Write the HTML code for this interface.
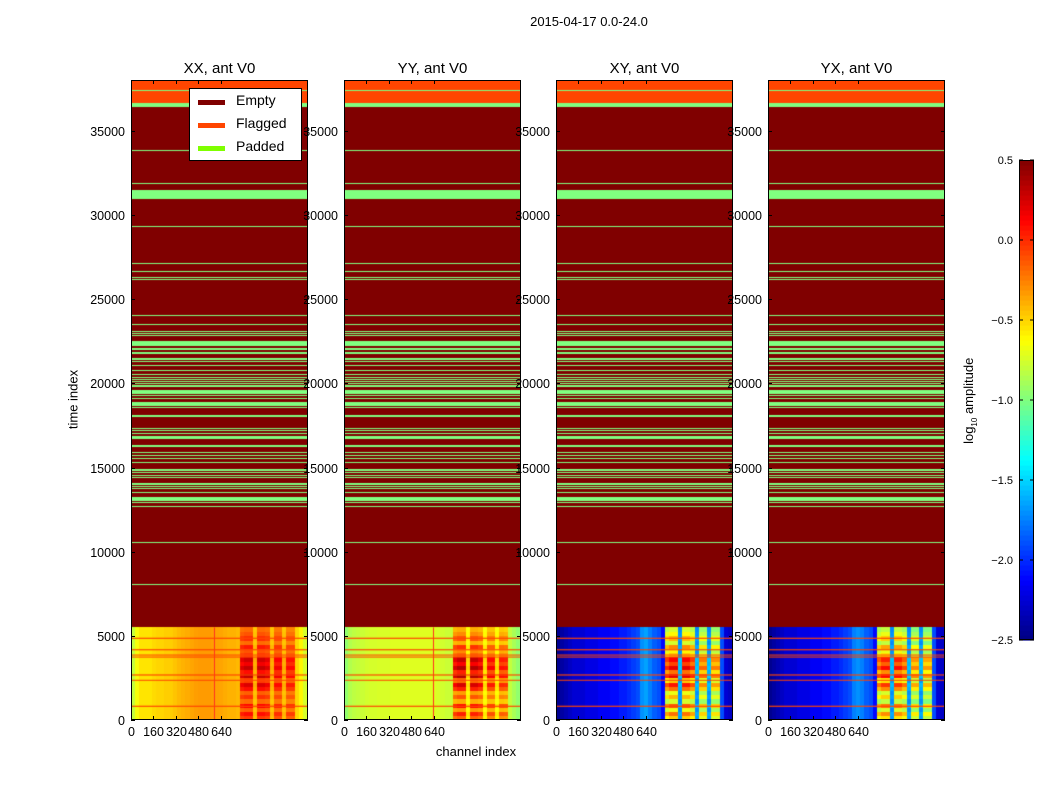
<!DOCTYPE html>
<html><head><meta charset="utf-8">
<style>
body{margin:0;background:#fff;}
#root{position:relative;width:1050px;height:800px;background:#fff;font-family:"Liberation Sans","DejaVu Sans",sans-serif;color:#000;overflow:hidden;}
.t{position:absolute;white-space:nowrap;}
canvas{position:absolute;}
</style></head>
<body>
<div id="root">
<div class="t" style="left:0;width:1178px;top:14px;text-align:center;font-size:13px;">2015-04-17 0.0-24.0</div>
<div class="t" style="left:33px;top:392px;width:80px;text-align:center;font-size:13px;transform:rotate(-90deg);">time index</div>
<div class="t" style="left:400px;top:744px;width:152px;text-align:center;font-size:13px;">channel index</div>
<div class="t" style="left:910px;top:392px;width:120px;text-align:center;font-size:13px;transform:rotate(-90deg);">log<sub style="font-size:8px">10</sub> amplitude</div>
<svg id="axes" width="1050" height="800" style="position:absolute;left:0;top:0"></svg>
<div style="position:absolute;left:189px;top:88px;width:111px;height:71px;border:1px solid #000;background:#fff;z-index:5;">
  <div style="position:absolute;left:8px;top:3px;height:20px;"><span style="position:absolute;left:0;top:8px;width:27px;height:5px;background:#800000"></span><span class="t" style="left:38px;top:0;font-size:14px;">Empty</span></div>
  <div style="position:absolute;left:8px;top:26px;height:20px;"><span style="position:absolute;left:0;top:8px;width:27px;height:5px;background:#ff4500"></span><span class="t" style="left:38px;top:0;font-size:14px;">Flagged</span></div>
  <div style="position:absolute;left:8px;top:49px;height:20px;"><span style="position:absolute;left:0;top:8px;width:27px;height:5px;background:#7fff00"></span><span class="t" style="left:38px;top:0;font-size:14px;">Padded</span></div>
</div>
</div>
<script>
// ---- data ----
const panelTitles = ["XX, ant V0","YY, ant V0","XY, ant V0","YX, ant V0"];
const yTicks = [0,5000,10000,15000,20000,25000,30000,35000];
const xTicks = [0,160,320,480,640];
const cbTicks = [-2.5,-2.0,-1.5,-1.0,-0.5,0.0,0.5];
const cbTickLabels = ["\u22122.5","\u22122.0","\u22121.5","\u22121.0","\u22120.5","0.0","0.5"];
const dataTop = 5500;
const rowBinSize = 250;
const chanBinSize = 30;
const baseXX = [-0.8,-0.65,-0.55,-0.55,-0.55,-0.52,-0.5,-0.5,-0.48,-0.48,-0.45,-0.42,-0.4,-0.38,-0.36,-0.34,-0.33,-0.33,-0.33,-0.34,-0.35,-0.36,-0.38,-0.4,-0.4,-0.42,-0.4,-0.4,-0.4,-0.5,-0.4,-0.4,-0.4,-0.5,-0.4,-0.4,-0.5,-0.42,-0.42,-0.5,-0.6,-0.75];
const baseYY = [-0.95,-0.85,-0.82,-0.8,-0.78,-0.76,-0.75,-0.75,-0.74,-0.74,-0.74,-0.72,-0.72,-0.72,-0.72,-0.72,-0.72,-0.72,-0.72,-0.72,-0.72,-0.72,-0.74,-0.76,-0.78,-0.78,-0.7,-0.7,-0.7,-0.7,-0.7,-0.7,-0.7,-0.7,-0.7,-0.7,-0.7,-0.7,-0.72,-0.8,-0.88,-0.95];
const baseXY = [-2.45,-2.4,-2.35,-2.3,-2.25,-2.25,-2.25,-2.2,-2.2,-2.2,-2.15,-2.15,-2.15,-2.1,-2.1,-2.05,-2.05,-2.0,-1.95,-1.9,-1.7,-1.65,-1.75,-1.85,-1.9,-2.1,-1.2,-1.15,-1.15,-1.8,-1.15,-1.15,-1.2,-1.8,-1.25,-1.25,-1.8,-1.25,-1.25,-1.9,-2.25,-2.3];
const baseYX = [-2.45,-2.4,-2.35,-2.3,-2.25,-2.25,-2.25,-2.2,-2.2,-2.2,-2.15,-2.15,-2.15,-2.1,-2.1,-2.05,-2.05,-2.0,-1.95,-1.9,-1.75,-1.7,-1.75,-1.85,-1.9,-2.1,-1.25,-1.2,-1.2,-1.8,-1.2,-1.2,-1.25,-1.8,-1.3,-1.3,-1.8,-1.3,-1.3,-1.9,-2.25,-2.3];
const rfiCol = [0,0,0,0,0,0,0,0,0,0,0,0,0,0,0,0,0,0,0,0,0,0,0,0,0,0,0.9,1,1,0.2,1,1,0.9,0.2,0.8,0.8,0.2,0.75,0.75,0,0,0];
const rfiRow = [0.5,0.7,0.35,0.75,0.3,0.55,0.35,0.7,0.9,0.5,1.0,0.7,1.0,0.8,0.95,0.5,0.4,0.65,0.3,0.55,0.4,0.3];
const rfiGain = [0.7,1.05,1.35,1.3];
const flaggedChans = [[591],[630],[],[]];
const flaggedRows = [[36660,38030],[4820,4890],[4140,4210],[3830,3890],[3710,3770],[2640,2710],[2330,2390],[780,850]];
const paddedRows = [[37360,37430],[36420,36660],[33820,33890],[31860,31930],[30942,31496],[29300,29370],[27100,27170],[26630,26700],[26270,26340],[26110,26180],[23970,24040],[23440,23510],[23020,23090],[22900,22970],[22780,22850],[22224,22520],[21987,22105],[21790,21860],[21710,21780],[21391,21510],[21255,21325],[21000,21070],[20700,20770],[20480,20550],[20290,20360],[20170,20240],[20070,20140],[19930,20000],[19810,19880],[19750,19820],[19371,19608],[19220,19290],[19060,19130],[18658,18896],[18500,18570],[18022,18124],[17310,17380],[17140,17210],[16960,17030],[16798,16893],[16660,16730],[16240,16341],[15830,15900],[15650,15720],[15470,15540],[15240,15310],[14814,14915],[14640,14710],[14480,14550],[14360,14430],[14005,14100],[13830,13900],[13690,13760],[13450,13520],[13031,13251],[12860,12930],[12640,12710],[10480,10550],[7990,8060]];
const bases = [baseXX,baseYY,baseXY,baseYX];
// ---- layout ----
const lefts=[131,344,556,768], pw=177, pTop=80, pBottom=720, tMax=38030, cMax=1260;
const yS = t => pBottom - t/tMax*(pBottom-pTop);
function jet(v){
  let x=(v+2.5)/3; x=Math.max(0,Math.min(1,x));
  const f=(a)=>Math.max(0,Math.min(1,1.5-Math.abs(4*x-a)));
  return `rgb(${Math.round(255*f(3))},${Math.round(255*f(2))},${Math.round(255*f(1))})`;
}
const root=document.getElementById('root');
const svg=document.getElementById('axes');
const NS="http://www.w3.org/2000/svg";
function sv(tag,attrs,parent){const e=document.createElementNS(NS,tag);for(const k in attrs)e.setAttribute(k,attrs[k]);(parent||svg).appendChild(e);return e;}
bases.forEach((base,p)=>{
  const L=lefts[p];
  const xS = c => c/cMax*pw;
  const cv=document.createElement('canvas');
  cv.width=pw;cv.height=pBottom-pTop;cv.style.left=L+'px';cv.style.top=pTop+'px';
  
  
  root.insertBefore(cv,svg);
  const g=cv.getContext('2d');
  const yy=t=>yS(t)-pTop;
  g.fillStyle='#800000';g.fillRect(0,yy(tMax),pw,yy(dataTop)-yy(tMax));
  for(let r=0;r<rfiRow.length;r++){
    for(let c=0;c<base.length;c++){
      const v=base[c]+rfiGain[p]*rfiCol[c]*rfiRow[r];
      g.fillStyle=jet(v);
      const x0=xS(c*chanBinSize),x1=xS((c+1)*chanBinSize);
      const y0=yy((r+1)*rowBinSize),y1=yy(r*rowBinSize);
      g.fillRect(Math.floor(x0),Math.floor(y0),Math.ceil(x1)-Math.floor(x0),Math.ceil(y1)-Math.floor(y0));
    }
  }
  g.fillStyle='#ff3020';
  flaggedChans[p].forEach(c=>{g.fillRect(Math.round(xS(c)),yy(dataTop),1,yy(0)-yy(dataTop));});
  g.fillStyle='#ff4500';
  flaggedRows.forEach(([a,b])=>{const y0=yy(b),y1=yy(a);g.fillRect(0,y0,pw,Math.max(1,y1-y0));});
  g.fillStyle='#80ff80';
  paddedRows.forEach(([a,b])=>{const y0=yy(b),y1=yy(a);g.fillRect(0,Math.round(y0),pw,Math.max(1,Math.round(y1-y0)));});
  const fr=sv('rect',{x:L+0.5,y:pTop+0.5,width:pw-1,height:pBottom-pTop-1,fill:'none',stroke:'#000','stroke-width':1});
  
  
  const ti=sv('text',{x:L+pw/2,y:73,'text-anchor':'middle','font-size':15,'font-family':'Liberation Sans, sans-serif'});
  ti.textContent=panelTitles[p];
  
  
  yTicks.forEach(t=>{
    const y=Math.round(yS(t))+0.5;
    sv('line',{x1:L,x2:L+4,y1:y,y2:y,stroke:'#000'});
    sv('line',{x1:L+pw-4,x2:L+pw,y1:y,y2:y,stroke:'#000'});
    const lb=sv('text',{x:L-6,y:y+4.5,'text-anchor':'end','font-size':12.5,'font-family':'Liberation Sans, sans-serif'});
    lb.textContent=t;
    
    
  });
  xTicks.forEach(c=>{
    const x=Math.round(L+xS(c))+0.5;
    sv('line',{x1:x,x2:x,y1:pBottom-4,y2:pBottom,stroke:'#000'});
    sv('line',{x1:x,x2:x,y1:pTop,y2:pTop+4,stroke:'#000'});
    const lb=sv('text',{x:x,y:736,'text-anchor':'middle','font-size':12.5,'font-family':'Liberation Sans, sans-serif'});
    lb.textContent=c;
    
    
  });
});
const cbL=1019,cbW=15,cbT=160,cbB=640;
const N=96;
for(let i=0;i<N;i++){
  const v=-2.5+3*(i+0.5)/N;
  const y0=cbB-(i+1)*(cbB-cbT)/N;
  sv('rect',{x:cbL,y:y0,width:cbW,height:(cbB-cbT)/N+0.6,fill:jet(v)});
}
const cbf=sv('rect',{x:cbL+0.5,y:cbT+0.5,width:cbW-1,height:cbB-cbT-1,fill:'none',stroke:'#000'});


cbTicks.forEach((v,i)=>{
  const y=cbB-(v+2.5)/3*(cbB-cbT);
  sv('line',{x1:cbL,x2:cbL+4,y1:y,y2:y,stroke:'#000'});
  sv('line',{x1:cbL+cbW-4,x2:cbL+cbW,y1:y,y2:y,stroke:'#000'});
  const lb=sv('text',{x:1013,y:y+4,'text-anchor':'end','font-size':11,'font-family':'Liberation Sans, sans-serif'});
  lb.textContent=cbTickLabels[i];
  
  
});
</script>
</body></html>
